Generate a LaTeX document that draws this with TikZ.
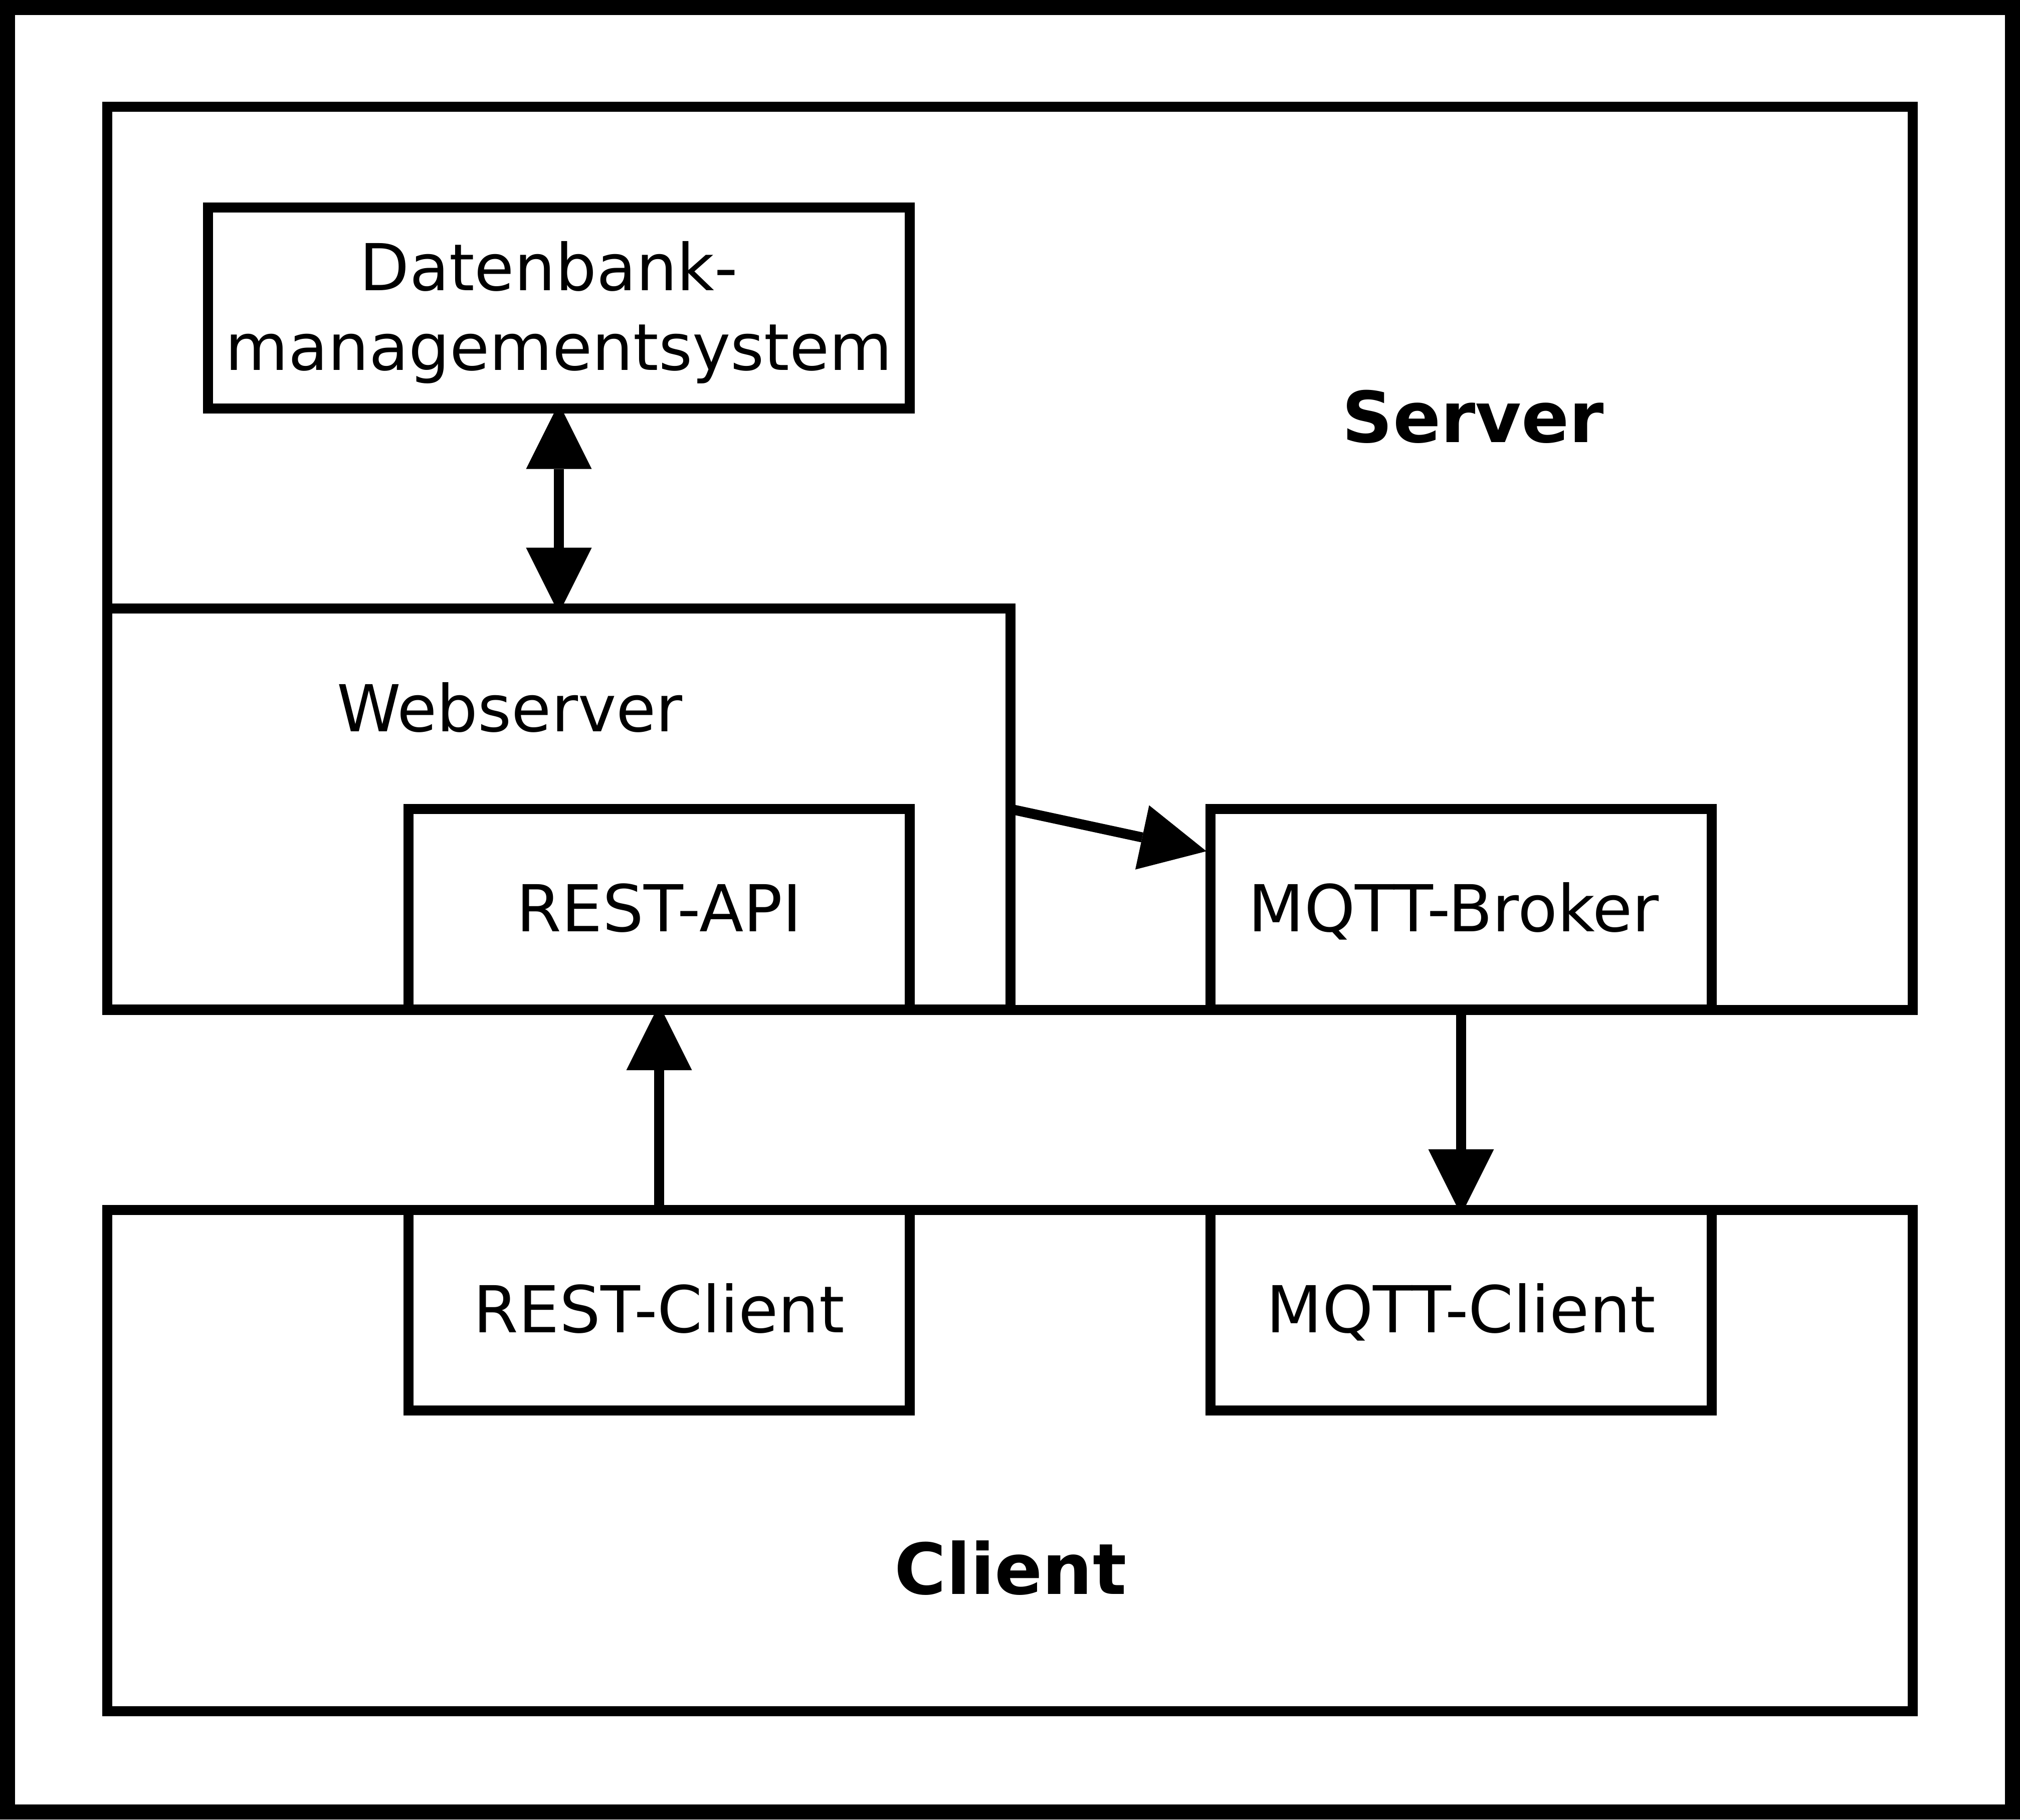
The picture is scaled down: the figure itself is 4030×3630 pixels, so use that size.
\documentclass[tikz,border=0pt]{standalone}
\usepackage{fontspec}
\setmainfont{DejaVu Sans}
\usetikzlibrary{arrows.meta,calc}
\begin{document}
\begin{tikzpicture}[x=0.01cm,y=-0.01cm,
  box/.style={draw, line width=0.2cm, rectangle, inner sep=0pt, outer sep=0pt,
    font=\fontsize{36.7}{45.2}\selectfont},
  oneline/.style={text height=1.0cm, text depth=0.12cm},
  lbl/.style={inner sep=0pt, anchor=base, font=\fontsize{36.7}{45.2}\selectfont},
  boldlbl/.style={inner sep=0pt, anchor=base, font=\fontsize{40}{48}\selectfont\bfseries},
  tri/.tip={Triangle[length=1.31cm,width=1.31cm,line width=0pt]},
  arr/.style={line width=0.2cm, -{tri}},
  darr/.style={line width=0.2cm, {tri}-{tri}},
]
\useasboundingbox (0,0) rectangle (4030,3630);
\draw[line width=0.3cm] (15,15) rectangle (4015,3615);

% containers
\node[box, minimum width=36cm, minimum height=18cm] (server) at (2015,1114) {};
\node[box, minimum width=18cm, minimum height=8cm] (web) at (1115,1614) {};
\node[box, minimum width=36cm, minimum height=10cm] (client) at (2015,2914) {};

% components
\node[box, align=center, minimum width=14cm, minimum height=4cm] (db) at (1115,614.5)
  {\rule{0pt}{1.16cm}Datenbank-\kern0.4cm\null\\managementsystem};
\node[box, oneline, minimum width=10cm, minimum height=4cm] (restapi) at (1315,1814) {REST-API};
\node[box, oneline, minimum width=10cm, minimum height=4cm] (broker) at (2915,1814) {MQTT-Broker\kern0.3cm\null};
\node[box, oneline, minimum width=10cm, minimum height=4cm] (restclient) at (1315,2614) {REST-Client};
\node[box, oneline, minimum width=10cm, minimum height=4cm] (mqttclient) at (2915,2614) {MQTT-Client};

% labels
\node[boldlbl] (serverlbl) at (2939,882) {Server};
\node[boldlbl] (clientlbl) at (2016,3180) {Client};
\node[lbl] (weblbl) at (1017,1459) {Webserver};

% connectors
\draw[darr, shorten <=-0.1cm, shorten >=-0.1cm] (db.south) -- (web.north);
\draw[arr, shorten >=-0.1cm] (restclient.north) -- (restapi.south);
\draw[arr, shorten >=-0.1cm] (broker.south) -- (mqttclient.north);
\draw[arr, shorten >=0.08cm] (web.east) -- ([yshift=-0.86cm]broker.north west);
\end{tikzpicture}
\end{document}
